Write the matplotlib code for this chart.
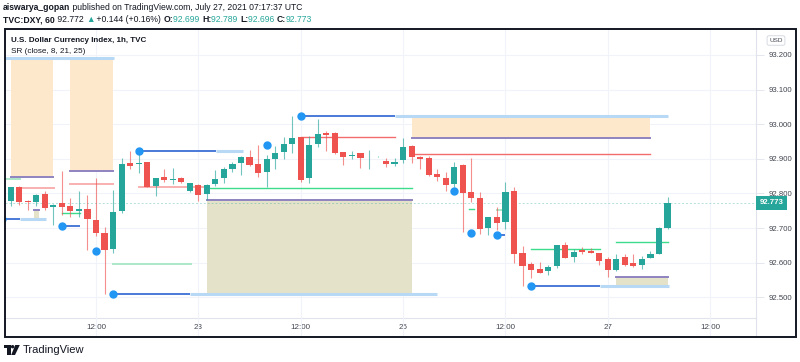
import matplotlib
matplotlib.use("Agg")
import matplotlib.pyplot as plt
from matplotlib.patches import Rectangle, Polygon, Circle
from matplotlib.transforms import blended_transform_factory

plt.rcParams['font.family'] = ['Liberation Sans', 'DejaVu Sans']

# =========================
# DATA  (1h DXY candles, bar index 0..77)
# =========================
opens = [92.778, 92.818, 92.779, 92.774, 92.798, 92.762, 92.771, 92.763, 92.750, 92.754,
         92.723, 92.686, 92.640, 92.750, 92.887, 92.884, 92.890, 92.822, 92.847, 92.840,
         92.845, 92.807, 92.825, 92.797, 92.828, 92.845, 92.871, 92.889, 92.905, 92.884,
         92.863, 92.899, 92.919, 92.943, 92.962, 92.844, 92.944, 92.975, 92.975, 92.921,
         92.907, 92.916, 92.904, 92.907, 92.894, 92.884, 92.896, 92.937, 92.904, 92.902,
         92.857, 92.845, 92.826, 92.882, 92.803, 92.788, 92.699, 92.732, 92.717, 92.806,
         92.627, 92.595, 92.581, 92.576, 92.589, 92.652, 92.617, 92.637, 92.634, 92.627,
         92.611, 92.579, 92.615, 92.598, 92.594, 92.613, 92.625, 92.699]
closes = [92.818, 92.776, 92.774, 92.795, 92.757, 92.767, 92.762, 92.750, 92.755, 92.725,
          92.685, 92.637, 92.746, 92.885, 92.880, 92.885, 92.819, 92.844, 92.838, 92.841,
          92.833, 92.829, 92.795, 92.825, 92.842, 92.871, 92.885, 92.905, 92.881, 92.860,
          92.899, 92.916, 92.943, 92.959, 92.839, 92.939, 92.972, 92.970, 92.918, 92.904,
          92.911, 92.902, 92.906, 92.908, 92.886, 92.892, 92.934, 92.904, 92.899, 92.853,
          92.847, 92.824, 92.877, 92.802, 92.786, 92.696, 92.731, 92.715, 92.803, 92.624,
          92.591, 92.580, 92.571, 92.586, 92.650, 92.613, 92.632, 92.632, 92.629, 92.606,
          92.579, 92.611, 92.594, 92.589, 92.611, 92.625, 92.699, 92.773]
highs = [92.819, 92.821, 92.781, 92.798, 92.807, 92.769, 92.864, 92.788, 92.807, 92.795,
         92.845, 92.704, 92.810, 92.902, 92.923, 92.923, 92.892, 92.845, 92.870, 92.873,
         92.846, 92.830, 92.827, 92.826, 92.867, 92.877, 92.891, 92.907, 92.925, 92.939,
         92.911, 92.937, 92.962, 93.024, 92.963, 92.966, 93.015, 92.981, 92.976, 92.921,
         92.923, 92.917, 92.925, 92.908, 92.903, 92.903, 92.960, 92.940, 92.908, 92.908,
         92.871, 92.863, 92.890, 92.884, 92.902, 92.805, 92.732, 92.760, 92.832, 92.819,
         92.649, 92.603, 92.602, 92.594, 92.651, 92.660, 92.639, 92.646, 92.641, 92.628,
         92.617, 92.624, 92.624, 92.624, 92.620, 92.634, 92.702, 92.789]
lows = [92.764, 92.767, 92.752, 92.764, 92.752, 92.709, 92.738, 92.731, 92.732, 92.637,
        92.677, 92.509, 92.629, 92.744, 92.870, 92.858, 92.818, 92.793, 92.834, 92.826,
        92.829, 92.804, 92.779, 92.781, 92.821, 92.829, 92.863, 92.854, 92.879, 92.848,
        92.819, 92.871, 92.900, 92.916, 92.834, 92.829, 92.935, 92.923, 92.913, 92.881,
        92.900, 92.874, 92.871, 92.906, 92.877, 92.880, 92.889, 92.887, 92.870, 92.851,
        92.837, 92.807, 92.818, 92.688, 92.776, 92.682, 92.680, 92.694, 92.697, 92.598,
        92.532, 92.556, 92.569, 92.564, 92.584, 92.612, 92.603, 92.624, 92.628, 92.593,
        92.559, 92.576, 92.589, 92.587, 92.581, 92.612, 92.624, 92.696]

# SR zones: (start bar, end bar, low, high)
supply_zones = [(0, 5, 92.847, 93.188), (7, 12, 92.866, 93.188), (47, 75, 92.959, 93.021)]
demand_zones = [(2.7, 3.3, 92.728, 92.752), (23, 47, 92.511, 92.780), (71, 77, 92.532, 92.559)]

# SR levels: (start bar, end bar, price)
res_solid = [(34, 45, 92.962), (47, 75, 92.914)]
res_light = [(1.1, 5.1, 92.816), (7, 12, 92.826), (15, 22.7, 92.819)]
sup_solid = [(6, 8.1, 92.743), (23, 47, 92.815), (53.7, 54.3, 92.754), (61, 69.1, 92.638), (71, 77, 92.659)]
sup_light = [(-0.7, 1.1, 92.842), (12, 21.1, 92.597), (57, 58, 92.751)]

# swing points
swing_x = [-3, -1, 6, 10, 12, 15, 30, 34, 52, 54, 57, 61]
swing_price = [93.190, 92.727, 92.706, 92.634, 92.509, 92.923, 92.939, 93.024, 92.808, 92.686, 92.679, 92.532]
swing_dark_to = [-3, 1.1, 8.1, 10, 21, 24.1, 30, 45, 52, 54, 58, 69.1]
swing_light_to = [12.1, 4.1, 8.1, 10, 50, 27.2, 30, 77, 52, 54, 58, 77.2]

x_ticks = [10, 22, 34, 46, 58, 70, 82]
x_labels = ["12:00", "23", "12:00", "26", "12:00", "27", "12:00"]
y_ticks = [92.5, 92.6, 92.7, 92.8, 92.9, 93.0, 93.1, 93.2]

# =========================
# COLOURS
# =========================
UP = "#26a69a"
DOWN = "#ef5350"
TXT = "#131722"
GRID = "#f0f3fa"
SEP = "#e0e3eb"

W, H = 800, 362
fig = plt.figure(figsize=(W / 100, H / 100), dpi=100)


def fx(px):
    return px / W


def fy(py):
    return 1 - py / H


ax = fig.add_axes([fx(5), fy(318), fx(751), 289 / H])
ax_t = fig.add_axes([fx(5), fy(337), fx(751), 19 / H], sharex=ax)

# zones
for x0, x1, lo, hi in supply_zones:
    ax.add_patch(Rectangle((x0, lo), x1 - x0, hi - lo, fc="#fee8cc", ec="none", zorder=1))
    ax.plot([x0, x1], [lo, lo], color="#8f83c0", lw=1.4, zorder=2)
for x0, x1, lo, hi in demand_zones:
    ax.add_patch(Rectangle((x0, lo), x1 - x0, hi - lo, fc="#e4e2c8", ec="none", zorder=1))
    ax.plot([x0, x1], [hi, hi], color="#8f83c0", lw=1.4, zorder=2)

# levels
for x0, x1, p in res_solid:
    ax.plot([x0, x1], [p, p], color="#f26c6c", lw=1.0, zorder=2)
for x0, x1, p in res_light:
    ax.plot([x0, x1], [p, p], color="#f8b0b0", lw=1.4, zorder=2)
for x0, x1, p in sup_solid:
    ax.plot([x0, x1], [p, p], color="#3ddc8c", lw=1.0, zorder=2)
for x0, x1, p in sup_light:
    ax.plot([x0, x1], [p, p], color="#ace8c8", lw=1.4, zorder=2)

# swing lines
for x, p, d, l in zip(swing_x, swing_price, swing_dark_to, swing_light_to):
    if l > d:
        ax.plot([d, l], [p, p], color="#b8d9f6", lw=2.2, zorder=2, solid_capstyle="butt")
    if d > x:
        ax.plot([x, d], [p, p], color="#3b6fd6", lw=1.3, zorder=2, solid_capstyle="butt")
ax.plot(swing_x, swing_price, "o", color="#2196f3", ms=5, zorder=5, ls="none")

# candles
idx = list(range(len(opens)))
cols = [UP if c >= o else DOWN for o, c in zip(opens, closes)]
ax.vlines(idx, lows, highs, colors=cols, lw=0.8, alpha=0.65, zorder=3)
bottoms = [min(o, c) for o, c in zip(opens, closes)]
heights = [max(abs(c - o), 0.0025) for o, c in zip(opens, closes)]
ax.bar(idx, heights, bottom=bottoms, width=0.72, color=cols, zorder=4)

# last price line + label
ax.axhline(closes[-1], color=UP, lw=0.7, ls=(0, (2, 2)), alpha=0.35, zorder=1)
trans = blended_transform_factory(ax.transAxes, ax.transData)
ax.text(1.0045, closes[-1], "%.3f" % closes[-1], transform=trans, ha="left", va="center",
        color="white", fontsize=5.6, fontweight="bold", clip_on=False,
        bbox=dict(boxstyle="square,pad=0.45", fc=UP, ec="none"))

# axes styling
ax.set_xlim(-0.668, 87.37)
ax.set_ylim(92.440, 93.275)
ax.set_yticks(y_ticks)
ax.set_yticklabels(["%.3f" % v for v in y_ticks])
ax.yaxis.tick_right()
ax.tick_params(axis="y", length=6, width=0.6, color=SEP, pad=3, labelsize=5.6, labelcolor="#434651")
ax.set_xticks(x_ticks)
ax.set_xticklabels(x_labels)
ax.tick_params(axis="x", length=0, pad=4.5, labelsize=5.8, labelcolor="#434651")
ax.grid(color=GRID, lw=0.8)
ax.set_axisbelow(True)
for s in ["left", "top"]:
    ax.spines[s].set_visible(False)
ax.spines["bottom"].set_color(SEP)
ax.spines["right"].set_color(SEP)
ax.spines["bottom"].set_linewidth(0.8)
ax.spines["right"].set_linewidth(0.8)

ax_t.set_ylim(0, 1)
ax_t.set_yticks([])
ax_t.tick_params(axis="x", length=0, labelbottom=False)
ax_t.grid(axis="x", color=GRID, lw=0.8)
for s in ["left", "top", "bottom"]:
    ax_t.spines[s].set_visible(False)
ax_t.spines["right"].set_color(SEP)
ax_t.spines["right"].set_linewidth(0.8)
ax_t.patch.set_alpha(0)

# chart frame
fig.add_artist(Rectangle((fx(4.5), fy(337)), fx(791.5), 308 / H, transform=fig.transFigure,
                         fill=False, ec=TXT, lw=1.4))

# USD badge
fig.text(fx(776), fy(40.5), "USD", ha="center", va="center", fontsize=4.6, color="#434651",
         bbox=dict(boxstyle="round,pad=0.35,rounding_size=0.3", fc="white", ec="#d1d4dc", lw=0.6))

# chart legend
fig.text(fx(11), fy(41), "U.S. Dollar Currency Index, 1h, TVC", fontsize=5.8, fontweight="bold",
         color=TXT, va="center")
fig.text(fx(11), fy(51.5), "SR (close, 8, 21, 25)", fontsize=5.9, color=TXT, va="center")

# header
ax_h = fig.add_axes([0, 0, 1, 1], zorder=-1)
ax_h.axis("off")
ax_h.set_xlim(0, 1)
ax_h.set_ylim(0, 1)
HS = 6.2
t = ax_h.text(fx(3), fy(7.5), "aiswarya_gopan", fontsize=HS, fontweight="bold", color=TXT, va="center")
ax_h.annotate(" published on TradingView.com, July 27, 2021 07:17:37 UTC", xy=(1, 0), xycoords=t,
              fontsize=HS, color=TXT, va="bottom")

parts = [("TVC:DXY, 60", "bold", TXT), (" 92.772 ", "normal", TXT), ("\u25b2", "normal", UP),
         (" +0.144 (+0.16%) ", "normal", TXT),
         ("O:", "bold", TXT), ("92.699 ", "normal", UP),
         ("H:", "bold", TXT), ("92.789 ", "normal", UP),
         ("L:", "bold", TXT), ("92.696 ", "normal", UP),
         ("C:", "bold", TXT), ("92.773", "normal", UP)]
prev = None
for s, w, c in parts:
    if prev is None:
        prev = ax_h.text(fx(3), fy(19.5), s, fontsize=HS, fontweight=w, color=c, va="center")
    else:
        prev = ax_h.annotate(s, xy=(1, 0), xycoords=prev, fontsize=HS, fontweight=w,
                             color=c, va="bottom")

# TradingView logo
ax_l = fig.add_axes([fx(4), fy(355), fx(16), 10 / H])
ax_l.set_xlim(0, 16)
ax_l.set_ylim(0, 10)
ax_l.axis("off")
ax_l.add_patch(Polygon([(0, 10), (6.5, 10), (6.5, 0), (3.2, 0), (3.2, 6.8), (0, 6.8)], fc=TXT, ec="none"))
ax_l.add_patch(Circle((8.6, 8.3), 1.7, fc=TXT, ec="none"))
ax_l.add_patch(Polygon([(11.2, 10), (15.8, 10), (11.0, 0), (7.2, 0)], fc=TXT, ec="none"))
fig.text(fx(23), fy(350), "TradingView", fontsize=8, color=TXT, va="center")

fig.savefig("out.png", dpi=100)
print("saved")
